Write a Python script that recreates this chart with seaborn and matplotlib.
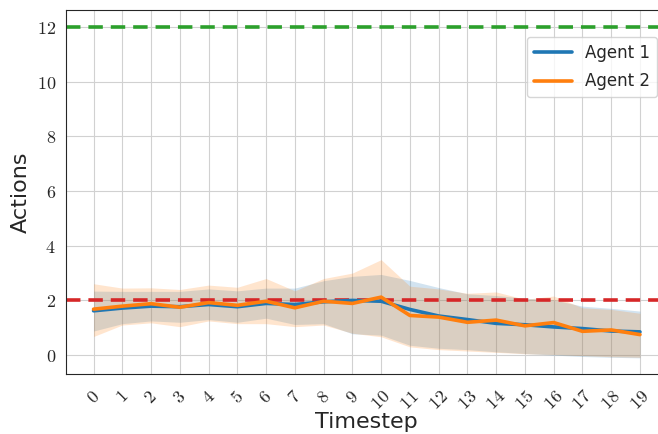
import numpy as np
import pandas as pd
import seaborn as sns
import matplotlib
matplotlib.use("Agg")
import matplotlib.pyplot as plt

timesteps = list(range(20))

agent1_mean = [1.62, 1.72, 1.79, 1.77, 1.85, 1.77, 1.89, 1.85, 1.95, 2.00,
               1.97, 1.67, 1.43, 1.30, 1.16, 1.11, 1.03, 0.97, 0.88, 0.85]
agent1_low = [0.88, 1.15, 1.25, 1.20, 1.30, 1.20, 1.35, 1.12, 1.15, 0.78,
              0.73, 0.36, 0.25, 0.20, 0.12, 0.06, 0.00, -0.05, -0.08, -0.10]
agent1_high = [2.34, 2.33, 2.33, 2.33, 2.42, 2.35, 2.45, 2.45, 2.72, 2.88,
               2.95, 2.73, 2.47, 2.24, 2.18, 2.08, 2.02, 1.79, 1.71, 1.61]

agent2_mean = [1.68, 1.79, 1.88, 1.75, 1.92, 1.82, 1.97, 1.73, 1.97, 1.89,
               2.12, 1.45, 1.39, 1.20, 1.28, 1.07, 1.19, 0.87, 0.92, 0.75]
agent2_low = [0.68, 1.10, 1.18, 1.04, 1.25, 1.15, 1.15, 1.04, 1.10, 0.80,
              0.67, 0.30, 0.20, 0.15, 0.10, 0.05, 0.02, -0.02, -0.06, -0.08]
agent2_high = [2.61, 2.45, 2.46, 2.40, 2.56, 2.48, 2.80, 2.35, 2.80, 3.00,
               3.49, 2.52, 2.42, 2.26, 2.31, 2.04, 2.16, 1.73, 1.67, 1.53]

agent_names = ["Agent 1", "Agent 2"]
max_actions = 12
target_actions = 2

sns.set_style("white", {"axes.grid": True, "grid.color": ".82", "axes.edgecolor": ".15"})
plt.rcParams["mathtext.fontset"] = "cm"

df = pd.DataFrame({
    "Timestep": timesteps * 2,
    "Actions": agent1_mean + agent2_mean,
    "Agent": [agent_names[0]] * 20 + [agent_names[1]] * 20,
})

fig = plt.figure(figsize=(6.58, 4.34), dpi=100)
ax = fig.add_axes([0.0998, 0.1383, 0.9152, 0.8387])

pal = sns.color_palette()
ax.axhline(max_actions, color=pal[2], ls="--", lw=2.6, dashes=(4, 2.2), zorder=1)
ax.axhline(target_actions, color=pal[3], ls="--", lw=2.6, dashes=(4, 2.2), zorder=1)

ax.fill_between(timesteps, agent1_low, agent1_high, color=pal[0], alpha=0.2, lw=0)
ax.fill_between(timesteps, agent2_low, agent2_high, color=pal[1], alpha=0.2, lw=0)
sns.lineplot(data=df, x="Timestep", y="Actions", hue="Agent", palette=pal[:2],
             lw=2.6, ax=ax, errorbar=None)
ax.lines[1].set_zorder(1.5)

ax.set_xlim(-0.97, 19.97)
ax.set_ylim(-0.69, 12.62)
ax.set_xticks(timesteps)
ax.set_xticklabels([f"${t}$" for t in timesteps], rotation=45, fontsize=13)
ax.set_yticks([0, 2, 4, 6, 8, 10, 12])
ax.set_yticklabels([f"${v}$" for v in [0, 2, 4, 6, 8, 10, 12]], fontsize=13)
ax.tick_params(axis="x", pad=6)
ax.set_xlabel("Timestep", fontsize=16, labelpad=-1)
ax.set_ylabel("Actions", fontsize=16)

leg = ax.legend(loc="upper right", bbox_to_anchor=(657 / 658, 1 - 37 / 434),
                bbox_transform=fig.transFigure, borderaxespad=0, fontsize=12,
                frameon=True, handlelength=2.3, labelspacing=0.65)
leg.get_frame().set_edgecolor(".8")

fig.savefig("out.png", dpi=100)
